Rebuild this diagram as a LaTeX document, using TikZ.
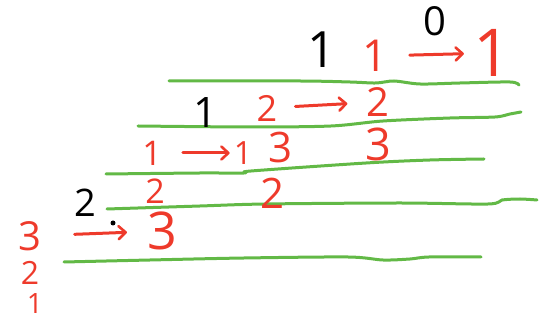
\documentclass[tikz,border=0pt]{standalone}
\usepackage{fontspec}
\setmainfont{Open Sans}
\usetikzlibrary{arrows.meta}
\definecolor{inkred}{HTML}{EE3A2B}
\definecolor{inkgreen}{HTML}{62B946}
\newcommand{\fs}[1]{\fontsize{#1}{#1}\selectfont}
\tikzset{
  rd/.style={text=inkred, inner sep=0pt, font=\fs{#1}},
  bk/.style={text=black, inner sep=0pt, font=\fs{#1}},
  rule/.style={draw=inkgreen, line width=3pt, line cap=round, line join=round},
  arr/.style={draw=inkred, line width=3pt, line cap=round,
    -{Straight Barb[length=7pt,width=13pt,line width=2.6pt,round]}},
}
\begin{document}
\begin{tikzpicture}[x=1pt,y=-1pt]
\useasboundingbox (0,0) rectangle (547,320);
% green rules
\draw[rule] plot[smooth] coordinates {(169,81) (300,81) (350,82) (376,83) (394,81) (420,84) (460,83) (510,82) (519,85)};
\draw[rule] plot[smooth] coordinates {(138,126) (250,127) (331,126) (383,121) (450,118) (495,117) (510,114) (521,112)};
\draw[rule] plot[smooth] coordinates {(106,174) (200,173) (244,173) (251,171) (366,163) (430,160) (484,159)};
\draw[rule] plot[smooth] coordinates {(107,209) (200,206) (265,204) (400,203) (488,204) (502,200) (520,199) (537,200)};
\draw[rule] plot[smooth] coordinates {(64,262) (150,260) (244,258) (348,257) (383,260) (410,259) (429,257) (481,257)};
% row 1
\node[bk=50] (k1) at (322,50) {1};
\node[bk=40] (k0) at (435,21) {0};
\node[rd=44] (ra) at (375,56) {1};
\node[rd=66] (rb) at (492,53) {1};
\draw[arr, shorten <=22pt, shorten >=9pt] (ra) -- (rb);
% row 2
\node[bk=42] (k1b) at (206,113) {1};
\node[rd=36] (r2a) at (267,108) {2};
\node[rd=40] (r2b) at (378,102) {2};
\draw[arr, shorten <=18pt, shorten >=19pt] (r2a) -- (r2b);
% row 3
\node[rd=34] (r3a) at (152,153) {1};
\node[rd=32] (r3b) at (243,153) {1};
\node[rd=42] (r3c) at (281,148) {3};
\node[rd=45] (r3d) at (378,144) {3};
\draw[arr, shorten <=21pt, shorten >=4pt] (r3a) -- (r3b);
% row 4
\node[rd=34] (r4a) at (155,191) {2};
\node[rd=42] (r4b) at (273,193) {2};
\node[bk=38] (k2) at (85,203) {2};
\fill (113,223) circle (2.5);
% row 5
\node[rd=40] (r5a) at (30,236) {3};
\node[rd=52] (r5b) at (162,231) {3};
\draw[arr, shorten <=33pt, shorten >=20pt] (r5a) -- (r5b);
\node[rd=32] (r6a) at (30,273) {2};
\node[rd=28] (r6b) at (35,304) {1};
\end{tikzpicture}
\end{document}
